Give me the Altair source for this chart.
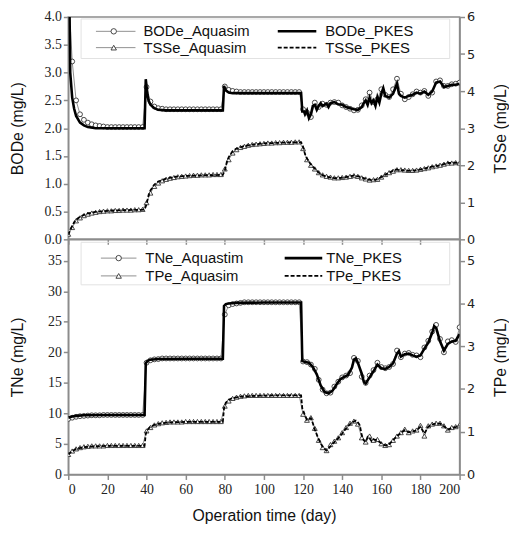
import altair as alt
import pandas as pd

# ---------------- data ----------------
days_aq = list(range(0, 201, 2))

bod_aq = [4.6, 3.2, 2.5, 2.25, 2.15, 2.1, 2.07, 2.05, 2.04, 2.03,
          2.02, 2.02, 2.02, 2.02, 2.02, 2.02, 2.02, 2.02, 2.02, 2.02,
          2.74, 2.48, 2.39, 2.36, 2.35, 2.34, 2.34, 2.34, 2.34, 2.34,
          2.34, 2.34, 2.34, 2.34, 2.34, 2.34, 2.34, 2.34, 2.34, 2.34,
          2.75, 2.69, 2.67, 2.66, 2.65, 2.65, 2.65, 2.65, 2.65, 2.65,
          2.65, 2.65, 2.65, 2.65, 2.65, 2.65, 2.65, 2.65, 2.65, 2.65,
          2.34, 2.28, 2.2, 2.46, 2.38, 2.44, 2.42, 2.46, 2.47, 2.46,
          2.41, 2.38, 2.35, 2.32, 2.33, 2.41, 2.52, 2.64, 2.47, 2.52,
          2.7, 2.6, 2.56, 2.7, 2.89, 2.62, 2.52, 2.56, 2.61, 2.66,
          2.64, 2.67, 2.58, 2.64, 2.84, 2.86, 2.76, 2.76, 2.79, 2.8,
          2.82]

days_bod_pk = [0, 1, 2, 3, 4, 6, 8, 10, 14, 20,
               30, 39, 39.6, 40.5, 41, 42, 44, 46, 50, 60,
               70, 79, 79.6, 80.5, 82, 84, 90, 100, 110, 119,
               119.6, 120.5, 121, 122, 123, 124, 125, 126, 127, 128,
               129, 130, 132, 133, 134, 136, 138, 140, 142, 144,
               146, 148, 150, 151, 152, 153, 154, 155, 156, 157,
               158, 159, 160, 161, 162, 164, 166, 168, 169, 170,
               172, 174, 176, 178, 180, 182, 184, 186, 188, 190,
               192, 194, 196, 198, 200]
bod_pk = [6.0, 3.0, 2.55, 2.35, 2.22, 2.10, 2.05, 2.02, 2.00, 2.00,
          2.00, 2.00, 2.88, 2.60, 2.50, 2.42, 2.36, 2.33, 2.32, 2.32,
          2.32, 2.32, 2.76, 2.68, 2.64, 2.63, 2.63, 2.63, 2.63, 2.63,
          2.30, 2.30, 2.25, 2.32, 2.18, 2.25, 2.40, 2.42, 2.33, 2.40,
          2.45, 2.40, 2.44, 2.38, 2.45, 2.47, 2.43, 2.42, 2.38, 2.36,
          2.34, 2.33, 2.38, 2.45, 2.50, 2.42, 2.55, 2.45, 2.50, 2.40,
          2.56, 2.46, 2.62, 2.72, 2.58, 2.55, 2.62, 2.80, 2.62, 2.58,
          2.55, 2.58, 2.60, 2.64, 2.62, 2.66, 2.60, 2.66, 2.82, 2.84,
          2.74, 2.76, 2.78, 2.78, 2.80]

tss_aq = [0.14, 0.32, 0.50, 0.58, 0.64, 0.68, 0.71, 0.73, 0.75, 0.76,
          0.77, 0.77, 0.78, 0.78, 0.79, 0.79, 0.79, 0.80, 0.80, 0.81,
          0.99, 1.25, 1.43, 1.52, 1.58, 1.62, 1.65, 1.67, 1.69, 1.70,
          1.71, 1.72, 1.73, 1.73, 1.74, 1.74, 1.74, 1.75, 1.75, 1.75,
          1.90, 2.15, 2.33, 2.42, 2.48, 2.51, 2.54, 2.56, 2.57, 2.58,
          2.59, 2.60, 2.60, 2.61, 2.61, 2.62, 2.62, 2.62, 2.63, 2.63,
          2.45, 2.15, 2.00, 1.90, 1.80, 1.74, 1.70, 1.68, 1.66, 1.66,
          1.67, 1.68, 1.70, 1.72, 1.70, 1.66, 1.63, 1.60, 1.61, 1.62,
          1.68, 1.75, 1.80, 1.84, 1.88, 1.88, 1.87, 1.86, 1.86, 1.87,
          1.89, 1.91, 1.93, 1.96, 1.98, 2.00, 2.03, 2.06, 2.06, 2.07,
          2.06]

days_tss_pk = [0, 1, 2, 3, 4, 6, 8, 10, 14, 18,
               24, 30, 39, 40, 41, 42, 44, 46, 50, 55,
               60, 70, 79, 80, 81, 82, 84, 86, 90, 95,
               100, 110, 119, 120, 121, 122, 124, 126, 128, 130,
               133, 136, 140, 143, 146, 149, 152, 155, 158, 161,
               164, 167, 170, 174, 178, 182, 186, 190, 194, 198,
               200]
tss_pk = [0.12, 0.25, 0.36, 0.46, 0.53, 0.61, 0.66, 0.70, 0.74, 0.76,
          0.78, 0.79, 0.80, 0.95, 1.18, 1.32, 1.48, 1.56, 1.64, 1.69,
          1.71, 1.73, 1.74, 1.86, 2.08, 2.22, 2.38, 2.45, 2.52, 2.56,
          2.59, 2.61, 2.62, 2.50, 2.30, 2.18, 2.02, 1.91, 1.80, 1.73,
          1.68, 1.65, 1.66, 1.69, 1.72, 1.69, 1.63, 1.60, 1.62, 1.71,
          1.80, 1.88, 1.87, 1.85, 1.86, 1.91, 1.96, 2.00, 2.06, 2.07,
          2.06]

tn_aq = [9.1, 9.3, 9.45, 9.55, 9.6, 9.65, 9.7, 9.7, 9.7, 9.75,
         9.75, 9.75, 9.75, 9.75, 9.75, 9.75, 9.75, 9.75, 9.75, 9.75,
         18.3, 18.7, 18.85, 18.9, 19.0, 19.0, 19.0, 19.0, 19.0, 19.0,
         19.0, 19.0, 19.0, 19.0, 19.0, 19.0, 19.0, 19.0, 19.0, 19.0,
         26.2, 27.7, 27.9, 28.0, 28.1, 28.2, 28.2, 28.2, 28.2, 28.2,
         28.2, 28.2, 28.2, 28.2, 28.2, 28.2, 28.2, 28.2, 28.2, 28.2,
         18.5, 18.4, 18.0, 17.3, 15.5, 13.9, 13.3, 13.4, 14.4, 15.2,
         15.9, 16.2, 16.6, 19.1, 18.6, 16.0, 15.0, 16.2, 17.1, 18.3,
         17.6, 17.4, 17.6, 18.1, 20.3, 19.2, 19.8, 19.9, 19.6, 19.5,
         19.2, 20.8, 21.9, 23.4, 24.5, 22.2, 20.0, 21.8, 22.0, 21.7,
         24.1]

days_tn_pk = [0, 2, 4, 8, 20, 39, 39.6, 40.5, 42, 46,
              60, 79, 79.6, 80.5, 82, 86, 100, 119, 119.6, 121,
              123, 125, 127, 129, 131, 133, 135, 137, 139, 141,
              143, 145, 146, 147, 148, 150, 151, 152, 154, 156,
              158, 160, 162, 164, 166, 168, 169, 170, 172, 174,
              176, 178, 180, 182, 184, 186, 187, 188, 190, 192,
              194, 196, 198, 200]
tn_pk = [9.3, 9.5, 9.6, 9.7, 9.75, 9.75, 18.2, 18.6, 18.8, 18.9,
         18.95, 18.95, 27.6, 27.9, 28.0, 28.1, 28.15, 28.15, 18.6, 18.4,
         18.3, 17.6, 16.4, 14.6, 13.5, 13.3, 13.7, 14.7, 15.6, 16.0,
         16.3, 17.5, 18.8, 19.0, 18.3, 16.5, 15.2, 14.9, 15.9, 16.9,
         18.0, 17.4, 17.3, 17.6, 18.2, 19.8, 20.2, 19.3, 19.7, 19.8,
         19.5, 19.3, 19.5, 20.6, 21.6, 23.2, 24.3, 24.0, 21.8, 20.3,
         21.4, 21.8, 21.9, 23.0]

tp_aq = [0.47, 0.55, 0.60, 0.63, 0.65, 0.66, 0.67, 0.67, 0.67, 0.67,
         0.68, 0.68, 0.68, 0.68, 0.68, 0.68, 0.68, 0.68, 0.68, 0.68,
         1.02, 1.10, 1.16, 1.19, 1.21, 1.22, 1.23, 1.23, 1.23, 1.23,
         1.24, 1.24, 1.24, 1.24, 1.24, 1.24, 1.24, 1.24, 1.24, 1.24,
         1.60, 1.72, 1.78, 1.81, 1.83, 1.84, 1.85, 1.85, 1.85, 1.85,
         1.85, 1.85, 1.85, 1.85, 1.85, 1.85, 1.85, 1.85, 1.85, 1.85,
         1.41, 1.27, 1.33, 1.08, 0.80, 0.63, 0.56, 0.70, 0.78, 0.86,
         0.98, 1.10, 1.20, 1.25, 1.18, 0.86, 0.76, 0.90, 0.80, 0.82,
         0.72, 0.68, 0.70, 0.80, 0.90, 0.98, 1.06, 0.98, 1.02, 1.04,
         1.15, 0.90, 1.14, 1.18, 1.20, 1.20, 1.14, 1.04, 1.10, 1.12,
         1.16]

days_tp_pk = [0, 2, 4, 8, 14, 20, 39, 39.6, 40.5, 42,
              44, 48, 52, 60, 79, 79.6, 80.5, 82, 84, 88,
              95, 105, 119, 119.6, 121, 122, 123, 124, 125, 126,
              128, 130, 132, 134, 136, 138, 140, 142, 144, 146,
              147, 148, 149, 150, 151, 152, 153, 154, 155, 156,
              158, 160, 162, 164, 166, 168, 170, 172, 174, 176,
              178, 180, 182, 184, 186, 188, 190, 192, 194, 196,
              198, 200]
tp_pk = [0.47, 0.55, 0.60, 0.64, 0.66, 0.67, 0.67, 0.95, 1.05, 1.12,
         1.16, 1.20, 1.22, 1.23, 1.23, 1.55, 1.68, 1.75, 1.79, 1.82,
         1.84, 1.85, 1.85, 1.55, 1.38, 1.28, 1.30, 1.32, 1.20, 1.05,
         0.82, 0.65, 0.56, 0.66, 0.76, 0.85, 0.96, 1.08, 1.18, 1.24,
         1.26, 1.22, 1.15, 0.92, 0.80, 0.76, 0.88, 0.85, 0.78, 0.82,
         0.80, 0.73, 0.68, 0.71, 0.80, 0.90, 0.97, 1.04, 0.99, 1.01,
         1.03, 1.12, 0.96, 1.12, 1.17, 1.19, 1.19, 1.13, 1.05, 1.09,
         1.11, 1.15]

x_ticks = [0, 20, 40, 60, 80, 100, 120, 140, 160, 180, 200]
bod_ticks = [0.0, 0.5, 1.0, 1.5, 2.0, 2.5, 3.0, 3.5, 4.0]
tss_ticks = [0, 1, 2, 3, 4, 5, 6]
tn_ticks = [0, 5, 10, 15, 20, 25, 30, 35]
tp_ticks = [0, 1, 2, 3, 4, 5]

top_legend = [("BODe_Aquasim", "circle"), ("TSSe_Aquasim", "triangle-up"),
              ("BODe_PKES", "solid"), ("TSSe_PKES", "dash")]
bot_legend = [("TNe_Aquastim", "circle"), ("TPe_Aquasim", "triangle-up"),
              ("TNe_PKES", "solid"), ("TPe_PKES", "dash")]

# ---------------- styling ----------------
W = 396
H_TOP = 225
H_BOT = 238
GRAY = "#8c8c8c"
AQ_LINE = "#8f8f8f"
SERIF = "Liberation Serif"
SANS = "Liberation Sans"


def frame(x, y):
    return pd.DataFrame({"day": x, "v": y})


def y_axis(title, ticks, fmt, right=False):
    kw = dict(values=ticks, format=fmt, domainColor=GRAY, domainWidth=1.5,
              tickColor=GRAY, tickWidth=1.5, tickSize=5, labelColor="#222",
              labelPadding=2, title=title, titleFont=SANS, titleFontSize=16,
              titleFontWeight="normal", titleColor="#111", titleBaseline="middle",
              grid=False)
    if right:
        kw.update(orient="right", labelFont="DejaVu Sans", labelFontSize=13,
                  titleAngle=270, titleX=41)
    else:
        kw.update(orient="left", labelFont=SERIF, labelFontSize=14, titleX=-51)
    return alt.Axis(**kw)


def x_enc(show_labels):
    if show_labels:
        ax = alt.Axis(values=x_ticks, format="d", domainColor=GRAY, domainWidth=1.5,
                      tickColor=GRAY, tickWidth=1.5, tickSize=5, labelFont=SERIF,
                      labelFontSize=14, labelColor="#222", labelPadding=3,
                      title="Operation time (day)", titleFont=SANS, titleFontSize=16,
                      titleFontWeight="normal", titleColor="#111", titlePadding=12,
                      grid=False)
    else:
        ax = alt.Axis(values=x_ticks, labels=False, domainColor=GRAY, domainWidth=1.5,
                      tickColor=GRAY, tickWidth=1.5, tickSize=5, title=None, grid=False)
    return alt.X("day:Q", scale=alt.Scale(domain=[0, 200], nice=False), axis=ax)


def group(x_show, aq_days, aq_vals, pk_days, pk_vals, dom, axis, shape, solid):
    xe = x_enc(x_show)
    ye = alt.Y("v:Q", scale=alt.Scale(domain=dom, nice=False), axis=axis)
    aq = frame(aq_days, aq_vals)
    pk = frame(pk_days, pk_vals)
    aq_line = alt.Chart(aq).mark_line(color=AQ_LINE, strokeWidth=1, clip=True).encode(x=xe, y=ye)
    aq_pts = alt.Chart(aq).mark_point(shape=shape, filled=True, fill="white", stroke="#333",
                                      strokeWidth=0.9, size=24, opacity=1, clip=True
                                      ).encode(x=xe, y=ye)
    if solid:
        pk_line = alt.Chart(pk).mark_line(color="black", strokeWidth=2.6, clip=True).encode(x=xe, y=ye)
    else:
        pk_line = alt.Chart(pk).mark_line(color="black", strokeWidth=1.8, strokeDash=[4, 2],
                                          clip=True).encode(x=xe, y=ye)
    return alt.layer(aq_line, aq_pts, pk_line)


def legend(entries, rows, col1, col2, box):
    one = lambda lab: pd.DataFrame({"label": [lab]})
    layers = [alt.Chart(one("box")).mark_rect(fill="white", fillOpacity=0, stroke="#e2e2e2",
                                                strokeWidth=1).encode(
        x=alt.value(box[0]), x2=alt.value(box[1]), y=alt.value(box[2]), y2=alt.value(box[3]))]
    for i, (lab, kind) in enumerate(entries):
        y = rows[i % 2]
        c = col1 if i < 2 else col2
        x0, x1, xm, xt = c
        d = one(lab)
        if kind in ("circle", "triangle-up"):
            layers.append(alt.Chart(d).mark_rule(color=AQ_LINE, strokeWidth=1).encode(
                x=alt.value(x0), x2=alt.value(x1), y=alt.value(y)))
            layers.append(alt.Chart(d).mark_point(shape=kind, filled=True, fill="white",
                                                  stroke="#333", strokeWidth=0.9, size=30,
                                                  opacity=1).encode(
                x=alt.value(xm), y=alt.value(y)))
        elif kind == "solid":
            layers.append(alt.Chart(d).mark_rule(color="black", strokeWidth=2.6).encode(
                x=alt.value(x0), x2=alt.value(x1), y=alt.value(y)))
        else:
            layers.append(alt.Chart(d).mark_rule(color="black", strokeWidth=1.8,
                                                 strokeDash=[4, 2]).encode(
                x=alt.value(x0), x2=alt.value(x1), y=alt.value(y)))
        layers.append(alt.Chart(d).mark_text(align="left", baseline="middle", font=SANS,
                                             fontSize=15, color="#111").encode(
            x=alt.value(xt), y=alt.value(y), text="label:N"))
    return layers


top_main = alt.layer(
    group(False, days_aq, bod_aq, days_bod_pk, bod_pk, [0, 4],
          y_axis("BODe (mg/L)", bod_ticks, ".1f"), "circle", True),
    group(False, days_aq, tss_aq, days_tss_pk, tss_pk, [0, 6],
          y_axis("TSSe (mg/L)", tss_ticks, "d", right=True), "triangle-up", False),
).resolve_scale(y="independent")

top = alt.layer(top_main, *legend(top_legend, [14.5, 31], (28, 68, 46, 76),
                                  (212, 251, 0, 260), (13, 386, 2, 42))
                ).properties(width=W, height=H_TOP)

bot_main = alt.layer(
    group(True, days_aq, tn_aq, days_tn_pk, tn_pk, [0, 38.5],
          y_axis("TNe (mg/L)", tn_ticks, "d"), "circle", True),
    group(True, days_aq, tp_aq, days_tp_pk, tp_pk, [0, 5.5],
          y_axis("TPe (mg/L)", tp_ticks, "d", right=True), "triangle-up", False),
).resolve_scale(y="independent")

bot = alt.layer(bot_main, *legend(bot_legend, [19, 37], (33, 69, 51, 78),
                                  (219, 257, 0, 261), (13, 386, 3, 46))
                ).properties(width=W, height=H_BOT)

chart = alt.vconcat(top, bot, spacing=0, bounds="flush").properties(
    padding={"left": 1, "top": -2, "right": 0, "bottom": 0}
).configure_view(stroke=GRAY, strokeWidth=1.5).configure_axis(grid=False)

chart.save("out.html", embed_options={"renderer": "svg", "actions": False})
